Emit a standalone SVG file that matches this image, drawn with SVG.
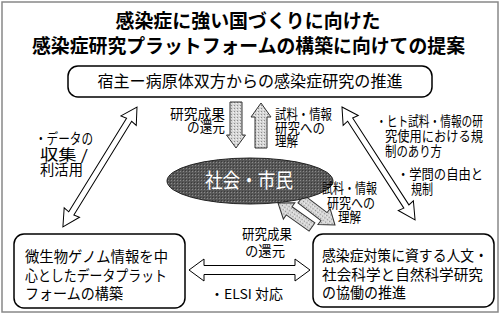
<svg xmlns="http://www.w3.org/2000/svg" width="500" height="323" viewBox="0 0 500 323">
<defs>
<pattern id="stipL" width="3" height="3" patternUnits="userSpaceOnUse">
<rect width="3" height="3" fill="#d6d6d6"/><rect x="0" y="0" width="1" height="1" fill="#8c8c8c"/><rect x="2" y="1" width="1" height="1" fill="#f2f2f2"/>
</pattern>
<pattern id="stipD" width="3" height="3" patternUnits="userSpaceOnUse">
<rect width="3" height="3" fill="#575757"/><rect x="0" y="0" width="1" height="1" fill="#8a8a8a"/><rect x="2" y="2" width="1" height="1" fill="#3a3a3a"/>
</pattern>
</defs>
<style>
text{font-family:"Noto Sans CJK JP","Noto Sans CJK SC",sans-serif;fill:#000}
.t{font-size:19px;font-weight:bold}
.b{font-size:15px}
.s{font-size:13.5px}
.box{fill:#fff;stroke:#000;stroke-width:1.5}
.dbl{fill:#fff;stroke:#000;stroke-width:1}
.gr{fill:url(#stipL);stroke:#333;stroke-width:1}
</style>
<rect x="2" y="2" width="496" height="310" fill="#fff" stroke="#888" stroke-width="1.5"/>
<g id="title">
<text class="t" x="248" y="28" text-anchor="middle" textLength="265" lengthAdjust="spacingAndGlyphs">感染症に強い国づくりに向けた</text>
<text class="t" x="248.5" y="53" text-anchor="middle" textLength="433" lengthAdjust="spacingAndGlyphs">感染症研究プラットフォームの構築に向けての提案</text>
</g>
<g id="connectors">
<path class="dbl" transform="translate(137,107) rotate(121.7)" d="M0,0 L16,-9 L15,-3 L125,-3 L124,-9 L141,0 L124,9 L125,3 L15,3 L16,9 Z"/>
<path class="dbl" transform="translate(342,107) rotate(57.1)" d="M0,0 L16,-9 L15,-3 L118.5,-3 L117.5,-9 L134.5,0 L117.5,9 L118.5,3 L15,3 L16,9 Z"/>
<path class="dbl" transform="translate(189,270)" d="M0,0 L15,-11 L15,-4.5 L106,-4.5 L106,-11 L121,0 L106,11 L106,4.5 L15,4.5 L15,11 Z"/>
<path class="gr" d="M230,102 L242,102 L242,135 L245.5,135 L236,148 L226.5,135 L230,135 Z"/>
<path class="gr" d="M255,148 L267,148 L267,117 L271,117 L261,103 L251,117 L255,117 Z"/>
<path class="gr" transform="translate(301,199) rotate(37.4)" d="M0,-5 L29,-5 L29,-10 L42.8,0 L29,10 L29,5 L0,5 Z"/>
<path class="gr" transform="translate(312,227) rotate(215.2)" d="M0,-5 L28,-5 L28,-10 L41.6,0 L28,10 L28,5 L0,5 Z"/>
</g>
<g id="node-top">
<rect class="box" x="68" y="66" width="364" height="31" rx="10"/>
<text x="250" y="87" font-size="16" text-anchor="middle" textLength="305" lengthAdjust="spacingAndGlyphs">宿主ー病原体双方からの感染症研究の推進</text>
</g>
<g id="node-society">
<ellipse cx="250" cy="181" rx="83" ry="23" fill="url(#stipD)" stroke="#222" stroke-width="1"/>
<text x="249" y="188" font-size="20" text-anchor="middle" textLength="88" lengthAdjust="spacingAndGlyphs" style="fill:#fff">社会・市民</text>
</g>
<g id="node-left">
<rect class="box" x="14" y="234" width="171" height="74" rx="10"/>
<text class="b" x="25" y="262" textLength="143" lengthAdjust="spacingAndGlyphs">微生物ゲノム情報を中</text>
<text class="b" x="25" y="281" textLength="142" lengthAdjust="spacingAndGlyphs">心としたデータプラット</text>
<text class="b" x="25" y="299" textLength="98" lengthAdjust="spacingAndGlyphs">フォームの構築</text>
</g>
<g id="node-right">
<rect class="box" x="313" y="234" width="181" height="73" rx="10"/>
<text class="b" x="322" y="261" textLength="166" lengthAdjust="spacingAndGlyphs">感染症対策に資する人文・</text>
<text class="b" x="322" y="280" textLength="161" lengthAdjust="spacingAndGlyphs">社会科学と自然科学研究</text>
<text class="b" x="322" y="298" textLength="84" lengthAdjust="spacingAndGlyphs">の協働の推進</text>
</g>
<g id="labels">
<text class="s" x="225" y="119" text-anchor="end" textLength="55" lengthAdjust="spacingAndGlyphs">研究成果</text>
<text class="s" x="225" y="132" text-anchor="end" textLength="38" lengthAdjust="spacingAndGlyphs">の還元</text>
<text class="s" x="275" y="119" textLength="57" lengthAdjust="spacingAndGlyphs">試料・情報</text>
<text class="s" x="275" y="133" textLength="50" lengthAdjust="spacingAndGlyphs">研究への</text>
<text class="s" x="275" y="146" textLength="23" lengthAdjust="spacingAndGlyphs">理解</text>
<text class="s" x="322" y="193" textLength="55" lengthAdjust="spacingAndGlyphs">試料・情報</text>
<text class="s" x="327" y="208" textLength="48" lengthAdjust="spacingAndGlyphs">研究への</text>
<text class="s" x="338" y="222" textLength="23" lengthAdjust="spacingAndGlyphs">理解</text>
<text class="s" x="242" y="239" textLength="50" lengthAdjust="spacingAndGlyphs">研究成果</text>
<text class="s" x="245" y="256" textLength="40" lengthAdjust="spacingAndGlyphs">の還元</text>
<text class="s" x="210" y="299" textLength="73" lengthAdjust="spacingAndGlyphs">・ELSI 対応</text>
<text font-size="14.5" x="35" y="144" textLength="58" lengthAdjust="spacingAndGlyphs">・データの</text>
<text font-size="14.5" x="40" y="160" textLength="48" lengthAdjust="spacingAndGlyphs">収集 /</text>
<text font-size="14.5" x="40" y="175" textLength="43" lengthAdjust="spacingAndGlyphs">利活用</text>
<text class="s" x="376" y="126" textLength="107" lengthAdjust="spacingAndGlyphs">・ヒト試料・情報の研</text>
<text class="s" x="385" y="141" textLength="98" lengthAdjust="spacingAndGlyphs">究使用における規</text>
<text class="s" x="385" y="156" textLength="57" lengthAdjust="spacingAndGlyphs">制のあり方</text>
<text class="s" x="397" y="179" textLength="86" lengthAdjust="spacingAndGlyphs">・学問の自由と</text>
<text class="s" x="411" y="194" textLength="22" lengthAdjust="spacingAndGlyphs">規制</text>
</g>
</svg>
